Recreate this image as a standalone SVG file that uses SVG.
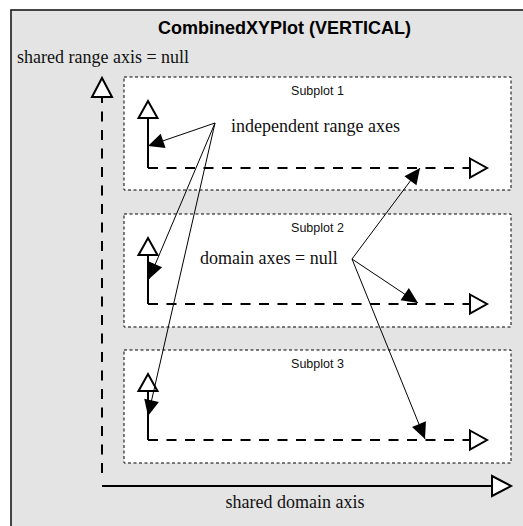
<svg xmlns="http://www.w3.org/2000/svg" width="523" height="526" viewBox="0 0 523 526">
<style>
.frame{fill:#e4e4e4;stroke:#1a1a1a;stroke-width:1.6}
.box{fill:#fff;stroke:#000;stroke-width:1;stroke-dasharray:3 2.5}
.ax{fill:none;stroke:#000;stroke-width:2}
.dash{stroke-dasharray:10 8.5}
.con{fill:none;stroke:#000;stroke-width:1}
.serif{font-family:"Liberation Serif","Times New Roman",serif;font-size:18px;fill:#111}
.sub{font-family:"Liberation Sans",Arial,sans-serif;font-size:12.5px;fill:#111;text-anchor:middle}
.title{font-family:"Liberation Sans",Arial,sans-serif;font-size:18px;font-weight:bold;fill:#000;text-anchor:middle}
</style>
<defs>
<marker id="open" markerUnits="userSpaceOnUse" viewBox="0 0 20 22" markerWidth="20" markerHeight="22" refX="1" refY="11" orient="auto" overflow="visible">
<path d="M1,1.5 L18,11 L1,20.5 Z" fill="#fff" stroke="#000" stroke-width="2" stroke-dasharray="none"/>
</marker>
<marker id="openBig" markerUnits="userSpaceOnUse" viewBox="0 0 22 22" markerWidth="22" markerHeight="22" refX="1" refY="11" orient="auto" overflow="visible">
<path d="M1,1 L20,11 L1,21 Z" fill="#fff" stroke="#000" stroke-width="2" stroke-dasharray="none"/>
</marker>
<marker id="fill" markerUnits="userSpaceOnUse" viewBox="0 0 16 15" markerWidth="16" markerHeight="15" refX="16" refY="7.5" orient="auto" overflow="visible">
<path d="M0,0 L16,7.5 L0,15 Z" fill="#000"/>
</marker>
</defs>

<g id="combined-plot">
<rect class="frame" x="11" y="10" width="530" height="540"/>
<text class="title" x="284.5" y="34">CombinedXYPlot (VERTICAL)</text>
<text class="serif" x="17" y="63">shared range axis = null</text>
</g>

<g id="shared-range-axis">
<path class="ax dash" d="M102,473 L102,97" marker-end="url(#openBig)"/>
</g>

<g id="subplot1">
<rect class="box" x="124" y="77" width="387" height="113"/>
<text class="sub" x="317.5" y="95">Subplot 1</text>
<path class="ax" d="M148,168 L148,118" marker-end="url(#open)"/>
<path class="ax dash" d="M148,168 L470,168" marker-end="url(#open)"/>
</g>

<g id="subplot2">
<rect class="box" x="124" y="214" width="387" height="113"/>
<text class="sub" x="317.5" y="232">Subplot 2</text>
<path class="ax" d="M148,304 L148,255" marker-end="url(#open)"/>
<path class="ax dash" d="M148,304 L470,304" marker-end="url(#open)"/>
</g>

<g id="subplot3">
<rect class="box" x="124" y="350" width="387" height="113"/>
<text class="sub" x="317.5" y="368">Subplot 3</text>
<path class="ax" d="M148,440 L148,391" marker-end="url(#open)"/>
<path class="ax dash" d="M148,440 L470,440" marker-end="url(#open)"/>
</g>

<g id="shared-domain-axis">
<path class="ax" d="M102,486 L492,486" marker-end="url(#openBig)"/>
<text class="serif" x="295" y="508" text-anchor="middle">shared domain axis</text>
</g>

<g id="label-independent">
<text class="serif" x="231" y="132">independent range axes</text>
</g>

<g id="label-domain">
<text class="serif" x="200" y="264">domain axes = null</text>
</g>

<g id="connectors">
<path class="con" d="M215,123 L148,146" marker-end="url(#fill)"/>
<path class="con" d="M215,123 L149,279" marker-end="url(#fill)"/>
<path class="con" d="M215,123 L148,416" marker-end="url(#fill)"/>
<path class="con" d="M352,259 L420,168" marker-end="url(#fill)"/>
<path class="con" d="M352,259 L418,303" marker-end="url(#fill)"/>
<path class="con" d="M352,259 L425,439" marker-end="url(#fill)"/>
</g>
</svg>
